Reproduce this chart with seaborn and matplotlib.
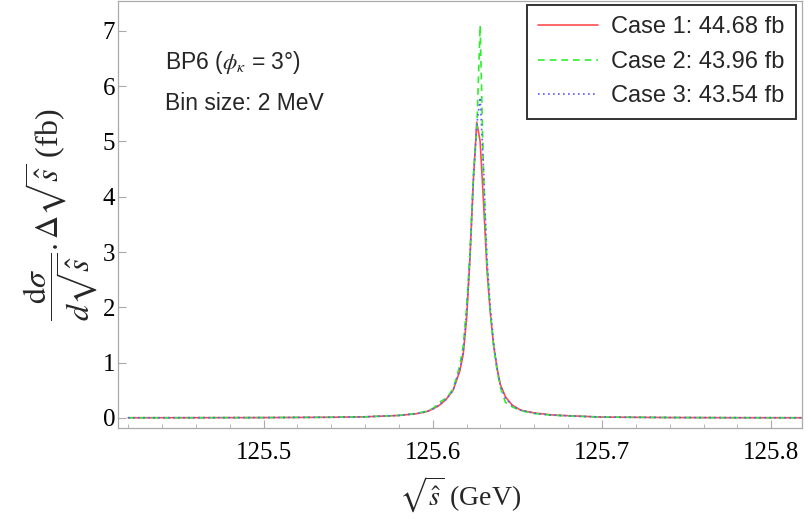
import numpy as np
import pandas as pd
import matplotlib
matplotlib.use("Agg")
import matplotlib.pyplot as plt
import seaborn as sns

# sqrt(s-hat) in GeV (fb per 2 MeV bin)
sqrt_s = [125.42, 125.46, 125.50, 125.54, 125.56, 125.58, 125.59, 125.596, 125.600,
          125.604, 125.608, 125.612, 125.616, 125.618, 125.620, 125.622, 125.624,
          125.626, 125.628, 125.630, 125.632, 125.634, 125.636, 125.638, 125.640,
          125.643, 125.647, 125.652, 125.66, 125.67, 125.68, 125.70, 125.74, 125.78, 125.82]
case1 = [0.003, 0.004, 0.006, 0.012, 0.02, 0.045, 0.075, 0.11, 0.16, 0.23, 0.34, 0.50,
         0.85, 1.15, 1.8, 2.9, 4.3, 5.35, 5.0, 3.9, 2.7, 1.9, 1.3, 0.9, 0.6, 0.38, 0.23,
         0.14, 0.09, 0.055, 0.04, 0.015, 0.007, 0.004, 0.003]
case2 = [0.003, 0.004, 0.006, 0.012, 0.02, 0.045, 0.08, 0.12, 0.17, 0.28, 0.36, 0.52,
         0.95, 1.3, 2.0, 3.0, 4.4, 5.2, 7.1, 4.4, 2.8, 1.9, 1.3, 0.85, 0.55, 0.28, 0.2,
         0.13, 0.08, 0.05, 0.035, 0.015, 0.007, 0.004, 0.003]
case3 = [0.003, 0.004, 0.006, 0.012, 0.02, 0.045, 0.075, 0.11, 0.16, 0.24, 0.34, 0.50,
         0.88, 1.2, 1.9, 2.9, 4.3, 5.3, 5.8, 4.5, 2.9, 2.0, 1.35, 0.9, 0.58, 0.36, 0.22,
         0.14, 0.085, 0.052, 0.038, 0.015, 0.007, 0.004, 0.003]
labels = ["Case 1: 44.68 fb", "Case 2: 43.96 fb", "Case 3: 43.54 fb"]

sns.set_theme(style="white")
plt.rcParams["mathtext.fontset"] = "stix"

fig = plt.figure(figsize=(8.11, 5.25), dpi=100)
ax = fig.add_axes([0.1455, 0.185, 0.843, 0.813])

sns.lineplot(x=sqrt_s, y=case1, ax=ax, color="#ff4d4d", lw=1.2, label=labels[0])
sns.lineplot(x=sqrt_s, y=case2, ax=ax, color="#2df02d", lw=1.2, label=labels[1])
sns.lineplot(x=sqrt_s, y=case3, ax=ax, color="#5a5aff", lw=1.2, label=labels[2])
ax.lines[1].set_linestyle((0, (4, 3)))
ax.lines[2].set_linestyle((0, (1, 2)))

ax.set_xlim(125.414, 125.818)
ax.set_ylim(-0.18, 7.54)
ax.set_xticks([125.5, 125.6, 125.7, 125.8])
ax.set_xticks(np.arange(125.42, 125.82, 0.02), minor=True)
ax.set_yticks(range(8))
ax.tick_params(which="both", direction="in", colors="#aaaaaa", labelcolor="black",
               bottom=True, left=True)
ax.tick_params(which="major", length=6, width=0.8, labelsize=18)
ax.tick_params(axis="y", pad=2)
ax.tick_params(axis="x", pad=10)
ax.tick_params(which="minor", length=3, width=0.6)
for t in ax.get_xticklabels() + ax.get_yticklabels():
    t.set_fontfamily("Liberation Serif")
for s in ax.spines.values():
    s.set_color("#aaaaaa")
    s.set_linewidth(0.9)

ax.set_xlabel(r"$\sqrt{\hat{s}}$ (GeV)", fontsize=20, family="Liberation Serif", labelpad=8)
ax.set_ylabel(r"$\dfrac{\mathrm{d}\sigma}{d\sqrt{\hat{s}}}.\Delta\sqrt{\hat{s}}$ (fb)",
              fontsize=23, family="Liberation Serif", labelpad=2)

ax.text(0.069, 0.857, r"BP6 ($\phi_\kappa$ = 3°)", transform=ax.transAxes,
        fontsize=16.5, family="Liberation Sans", va="center")
ax.text(0.069, 0.761, "Bin size: 2 MeV", transform=ax.transAxes,
        fontsize=16.5, family="Liberation Sans", va="center")

leg = ax.legend(loc="upper right", bbox_to_anchor=(0.991, 0.99), borderaxespad=0,
                prop={"family": "Liberation Sans", "size": 17}, frameon=True,
                fancybox=False, handlelength=2.55, handletextpad=0.55,
                labelspacing=0.53, borderpad=0.47)
leg.get_frame().set_edgecolor("black")
leg.get_frame().set_linewidth(1.4)

fig.savefig("out.png", dpi=100)
